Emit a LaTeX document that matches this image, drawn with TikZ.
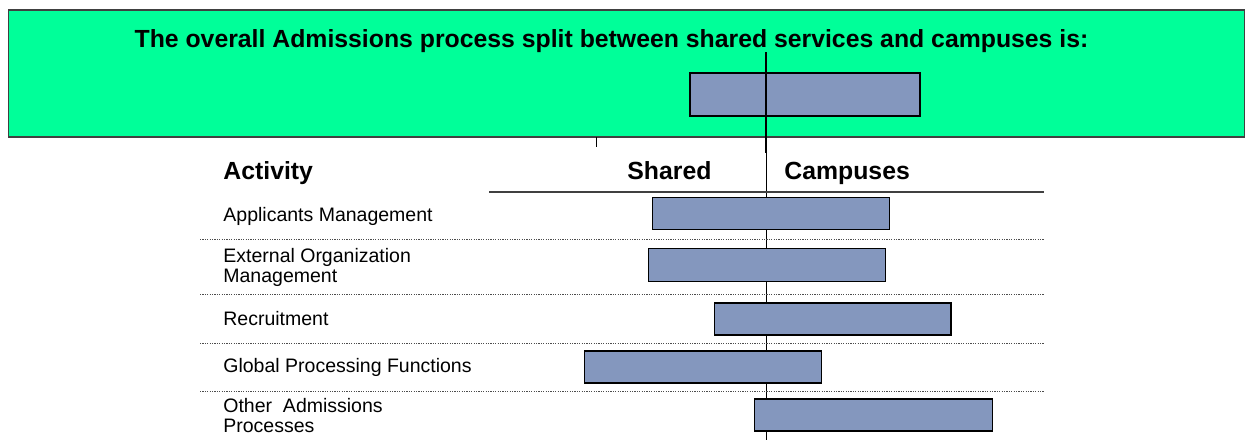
\documentclass[tikz,border=0pt]{standalone}
\usepackage{fontspec}
\setmainfont{Liberation Sans}
\usepackage{tikz}
\definecolor{boxgreen}{RGB}{0,255,153}
\definecolor{barblue}{RGB}{132,151,190}
\tikzset{
        sharebar/.style={draw=black, fill=barblue, line width=0.55pt},
        rowlabel/.style={anchor=base west, inner sep=0pt, align=left, font=\fontsize{9.75}{9.9}\selectfont},
        headlabel/.style={anchor=base west, inner sep=0pt, font=\fontsize{12.4}{14}\selectfont\bfseries},
        sepline/.style={black!70, line width=0.5pt, dash pattern=on 0.6pt off 0.6pt},
    }

\begin{document}
\begin{tikzpicture}[x=0.5pt, y=-0.5pt]
        \useasboundingbox (0,0) rectangle (1245,440);
        \draw [fill=boxgreen, draw=black!75, line width=0.8pt] (8.5,9.7) rectangle (1244.3,137);
        \node [headlabel, anchor=base] (title) at (611.5,47) {The overall Admissions process split between shared services and campuses is:};
        \draw [sharebar] (690,73) rectangle (920,116);
    % 	split line
        \draw [line width=1pt] (766,52) -- (766,153);
        \draw [line width=0.5pt] (766,153) -- (766,440);
        \draw [line width=0.5pt] (596,137) -- (596,147);
        \node [headlabel] (activity) at (223,179) {Activity};
        \node [headlabel] (shared) at (627,179) {Shared};
        \node [headlabel] (campuses) at (784,179) {Campuses};
        \draw [black!75, line width=0.65pt] (489,192) -- (1044,192);
        \draw [sepline] (200,239.3) -- (1044,239.3);
        \draw [sepline] (200,294.3) -- (1044,294.3);
        \draw [sepline] (200,343.3) -- (1044,343.3);
        \draw [sepline] (200,391.7) -- (1044,391.7);
        \node [rowlabel] (applicants) at (223,221) {Applicants Management};
        \node [rowlabel] (external) at (223,282.7) {External Organization\\Management};
        \node [rowlabel] (recruit) at (223,325) {Recruitment};
        \node [rowlabel] (global) at (223,372.7) {Global Processing Functions};
        \node [rowlabel] (other) at (223,432.7) {Other~~Admissions\\Processes};
        \draw [sharebar] (652.7,197.3) rectangle (889.7,229.7);
        \draw [sharebar] (648.7,248.3) rectangle (885.7,281.7);
        \draw [sharebar] (714.3,303) rectangle (951,335);
        \draw [sharebar] (584.7,351) rectangle (821.3,383);
        \draw [sharebar] (754.3,399) rectangle (992.3,431);
    \end{tikzpicture}
\end{document}
